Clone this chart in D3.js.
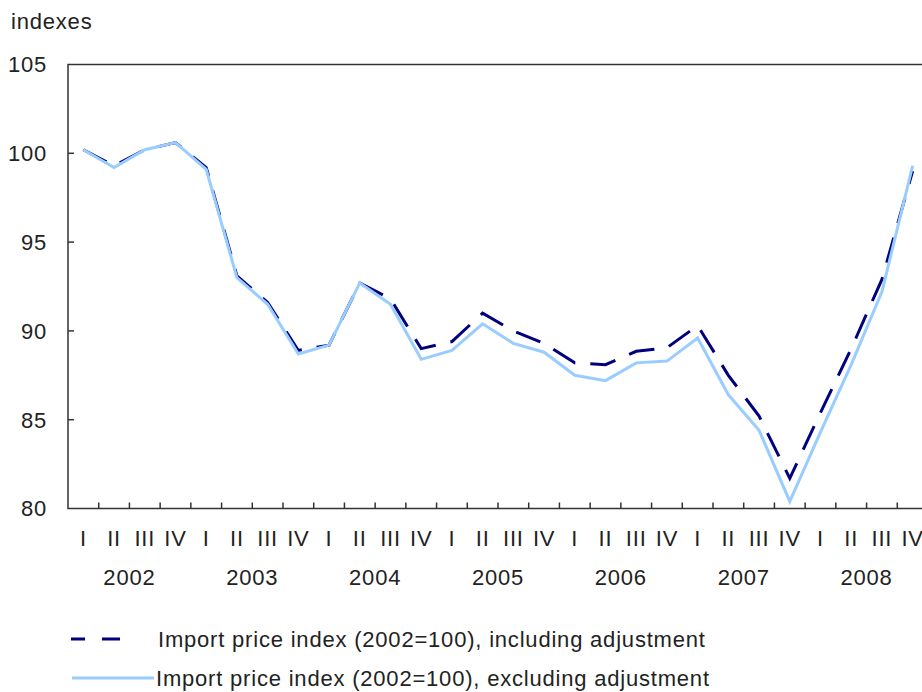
<!DOCTYPE html>
<html>
<head>
<meta charset="utf-8">
<script src="https://cdn.jsdelivr.net/npm/d3@7"></script>
<style>
  body { margin: 0; background: #fff; }
  text { font-family: "Liberation Sans", Arial, sans-serif; font-size: 22px; letter-spacing: 0.8px; fill: #222; }
</style>
</head>
<body>
<div id="chart"></div>
<script>
// quarters 2002 Q1 .. 2008 Q4
const years = ["2002", "2003", "2004", "2005", "2006", "2007", "2008"];
const quarterNames = ["I", "II", "III", "IV"];

// including adjustment (dark dashed)
const including = [
    100.2, 99.3, 100.2, 100.6,
    99.2, 93.1, 91.6, 88.9,
    89.2, 92.7, 91.8, 89.0,
    89.4, 91.0, 90.0, 89.3,
    88.2, 88.1, 88.85, 89.05,
    90.3, 87.5, 85.2, 81.7,
    85.4, 89.0, 92.9, 99.0
];

// excluding adjustment (light solid)
const excluding = [
    100.2, 99.2, 100.2, 100.6,
    99.1, 93.0, 91.5, 88.7,
    89.2, 92.7, 91.5, 88.4,
    88.9, 90.4, 89.3, 88.8,
    87.5, 87.2, 88.2, 88.3,
    89.6, 86.4, 84.4, 80.4,
    84.3, 88.1, 92.2, 99.3
];

const yTicks = [80, 85, 90, 95, 100, 105];

const labelIncl = "Import price index (2002=100), including adjustment";
const labelExcl = "Import price index (2002=100), excluding adjustment";

const keys = [];
years.forEach(y => quarterNames.forEach(q => keys.push(y + "-" + q)));

const width = 922, height = 692;
const plotLeft = 68, plotTop = 64.5, plotBottom = 508.5, plotRight = 928;

const svg = d3.select("#chart")
    .append("svg")
    .attr("width", width)
    .attr("height", height);

const x = d3.scaleBand()
    .domain(keys)
    .range([plotLeft, plotRight])
    .padding(0);

const y = d3.scaleLinear()
    .domain([80, 105])
    .range([plotBottom, plotTop]);

const cx = k => x(k) + x.bandwidth() / 2;

// frame: left, top, bottom
svg.append("path")
    .attr("d", `M${plotRight},${plotTop}H${plotLeft}V${plotBottom}H${plotRight}`)
    .attr("fill", "none")
    .attr("stroke", "#333")
    .attr("stroke-width", 1.5);

// y ticks (inward)
svg.selectAll(".ytick")
    .data(yTicks.slice(1, -1))
    .enter().append("line")
    .attr("x1", plotLeft).attr("x2", plotLeft + 6)
    .attr("y1", d => y(d)).attr("y2", d => y(d))
    .attr("stroke", "#333").attr("stroke-width", 1.5);

svg.selectAll(".ylab")
    .data(yTicks)
    .enter().append("text")
    .attr("x", 47)
    .attr("y", d => y(d))
    .attr("dy", "0.36em")
    .attr("text-anchor", "end")
    .text(d => d);

svg.append("text")
    .attr("x", 11)
    .attr("y", 29)
    .text("indexes");

// x ticks at quarter boundaries (inward)
svg.selectAll(".xtick")
    .data(keys.slice(1))
    .enter().append("line")
    .attr("x1", d => x(d)).attr("x2", d => x(d))
    .attr("y1", plotBottom).attr("y2", plotBottom - 6)
    .attr("stroke", "#333").attr("stroke-width", 1.5);

svg.selectAll(".qlab")
    .data(keys)
    .enter().append("text")
    .attr("x", d => cx(d))
    .attr("y", 538)
    .attr("dy", "0.36em")
    .attr("text-anchor", "middle")
    .text(d => d.split("-")[1]);

svg.selectAll(".yearlab")
    .data(years)
    .enter().append("text")
    .attr("x", d => (x(d + "-I") + x(d + "-IV") + x.bandwidth()) / 2)
    .attr("y", 577)
    .attr("dy", "0.36em")
    .attr("text-anchor", "middle")
    .text(d => d);

const line = d3.line()
    .x((d, i) => cx(keys[i]))
    .y(d => y(d));

svg.append("path")
    .datum(including)
    .attr("fill", "none")
    .attr("stroke", "#00007f")
    .attr("stroke-width", 3)
    .attr("stroke-dasharray", "26,15")
    .attr("d", line);

svg.append("path")
    .datum(excluding)
    .attr("fill", "none")
    .attr("stroke", "#99ccff")
    .attr("stroke-width", 3)
    .attr("d", line);

// legend
svg.append("path")
    .attr("d", "M71,639H120")
    .attr("stroke", "#00007f")
    .attr("stroke-width", 3)
    .attr("stroke-dasharray", "14,17,18");

svg.append("text")
    .attr("x", 158).attr("y", 639).attr("dy", "0.36em")
    .text(labelIncl);

svg.append("path")
    .attr("d", "M72,678H154")
    .attr("stroke", "#99ccff")
    .attr("stroke-width", 3);

svg.append("text")
    .attr("x", 156).attr("y", 678).attr("dy", "0.36em")
    .text(labelExcl);
</script>
</body>
</html>
